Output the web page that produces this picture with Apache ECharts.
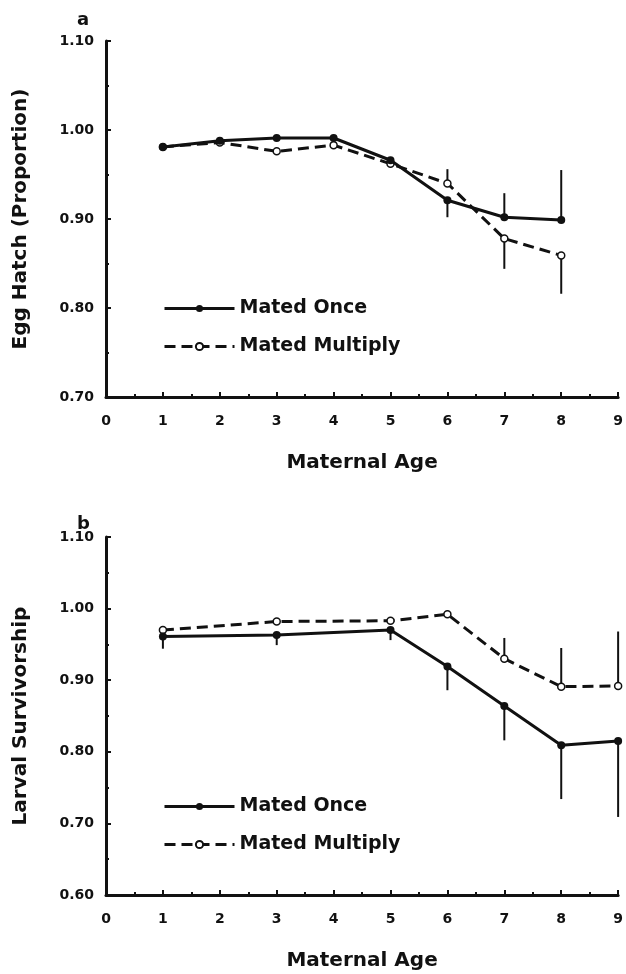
<!DOCTYPE html>
<html>
  <head>
    <meta charset="UTF-8" />
    <title>Egg hatch and larval survivorship</title>
    <script src="https://cdn.jsdelivr.net/npm/echarts@6/dist/echarts.min.js"></script>
    <style>
      html, body { margin: 0; background: #fff; }
      #chart { width: 626px; height: 974px; }
    </style>
  </head>
  <body>
    <div id="chart"></div>
    <script>
      // panel a: egg hatch
      const ageA = [1, 2, 3, 4, 5, 6, 7, 8];
      const onceA = [0.981, 0.988, 0.991, 0.991, 0.966, 0.921, 0.902, 0.899];
      const multA = [0.981, 0.986, 0.976, 0.983, 0.962, 0.940, 0.878, 0.859];
      // end of each error bar (null = none drawn)
      const onceErrA = [null, null, null, null, null, 0.902, 0.929, 0.955];
      const multErrA = [null, null, null, null, null, 0.956, 0.844, 0.816];

      // panel b: larval survivorship
      const ageB = [1, 3, 5, 6, 7, 8, 9];
      const onceB = [0.961, 0.963, 0.970, 0.919, 0.864, 0.809, 0.815];
      const multB = [0.970, 0.982, 0.983, 0.992, 0.930, 0.891, 0.892];
      const onceErrB = [0.944, 0.949, 0.956, 0.886, 0.816, 0.734, 0.709];
      const multErrB = [null, null, null, null, 0.959, 0.945, 0.968];

      const xTicks = [0, 1, 2, 3, 4, 5, 6, 7, 8, 9];

      const ink = "#111";
      const font = "DejaVu Sans";

      const pairs = (xs, ys) => xs.map((x, i) => [x, ys[i]]);
      const errPairs = (xs, ys, ends) =>
        xs.map((x, i) => [x, ys[i], ends[i]]).filter((d) => d[2] != null);

      const xAxis = (gi) => ({
        gridIndex: gi,
        type: "value",
        min: 0,
        max: 9,
        interval: 1,
        name: "Maternal Age",
        nameLocation: "middle",
        nameGap: 56,
        nameTextStyle: { fontFamily: font, fontWeight: "bold", fontSize: 20, color: ink },
        axisLine: { onZero: false, lineStyle: { color: ink, width: 3 } },
        axisTick: { inside: true, length: 5, lineStyle: { color: ink, width: 2 } },
        minorTick: { show: true, splitNumber: 2, length: 3, lineStyle: { color: ink, width: 2 } },
        splitLine: { show: false },
        axisLabel: {
          margin: 17,
          fontFamily: font,
          fontWeight: "bold",
          fontSize: 14,
          color: ink,
          showMaxLabel: true,
          formatter: (v) => (xTicks.includes(v) ? String(v) : ""),
        },
      });

      const yAxis = (gi, min, name) => ({
        gridIndex: gi,
        type: "value",
        min: min,
        max: 1.1,
        interval: 0.1,
        name: name,
        nameLocation: "middle",
        nameGap: 75,
        nameTextStyle: { fontFamily: font, fontWeight: "bold", fontSize: 20, color: ink },
        axisLine: { show: true, onZero: false, lineStyle: { color: ink, width: 3 } },
        axisTick: { show: true, inside: true, length: 5, lineStyle: { color: ink, width: 2 } },
        minorTick: { show: true, splitNumber: 2, length: 3, lineStyle: { color: ink, width: 2 } },
        splitLine: { show: false },
        axisLabel: {
          margin: 12,
          fontFamily: font,
          fontWeight: "bold",
          fontSize: 14,
          color: ink,
          formatter: (v) => v.toFixed(2),
        },
      });

      const onceSeries = (xi, data) => ({
        name: "Mated Once",
        type: "line",
        xAxisIndex: xi,
        yAxisIndex: xi,
        data: data,
        symbol: "circle",
        symbolSize: 8,
        lineStyle: { color: ink, width: 3 },
        itemStyle: { color: ink },
        z: 4,
        animation: false,
      });

      const multSeries = (xi, data) => ({
        name: "Mated Multiply",
        type: "line",
        xAxisIndex: xi,
        yAxisIndex: xi,
        data: data,
        symbol: "circle",
        symbolSize: 7,
        lineStyle: { color: ink, width: 3, type: [11, 6] },
        itemStyle: { color: "#fff", borderColor: ink, borderWidth: 1.5 },
        z: 3,
        animation: false,
      });

      const errSeries = (xi, data) => ({
        type: "custom",
        xAxisIndex: xi,
        yAxisIndex: xi,
        data: data,
        z: 2,
        silent: true,
        animation: false,
        renderItem: (params, api) => {
          const a = api.coord([api.value(0), api.value(1)]);
          const b = api.coord([api.value(0), api.value(2)]);
          return {
            type: "line",
            shape: { x1: a[0], y1: a[1], x2: b[0], y2: b[1] },
            style: { stroke: ink, lineWidth: 2 },
          };
        },
      });

      const legend = (top) => ({
        data: ["Mated Once", "Mated Multiply"],
        orient: "vertical",
        left: 158,
        top: top,
        itemWidth: 70,
        itemHeight: 9,
        itemGap: 19,
        selectedMode: false,
        lineStyle: { width: 3 },
        textStyle: { fontFamily: font, fontWeight: "bold", fontSize: 19, color: ink },
      });

      const chart = echarts.init(document.getElementById("chart"));
      chart.setOption({
        backgroundColor: "#fff",
        animation: false,
        title: [
          { text: "a", left: 72, top: 6, textStyle: { fontFamily: font, fontWeight: "bold", fontSize: 18, color: ink } },
          { text: "b", left: 72, top: 510, textStyle: { fontFamily: font, fontWeight: "bold", fontSize: 18, color: ink } },
        ],
        legend: [legend(294), legend(792)],
        grid: [
          { left: 106, top: 41, width: 517, height: 356 },
          { left: 106, top: 537, width: 517, height: 358 },
        ],
        xAxis: [xAxis(0), xAxis(1)],
        yAxis: [yAxis(0, 0.7, "Egg Hatch (Proportion)"), yAxis(1, 0.6, "Larval Survivorship")],
        series: [
          errSeries(0, errPairs(ageA, onceA, onceErrA)),
          errSeries(0, errPairs(ageA, multA, multErrA)),
          onceSeries(0, pairs(ageA, onceA)),
          multSeries(0, pairs(ageA, multA)),
          errSeries(1, errPairs(ageB, onceB, onceErrB)),
          errSeries(1, errPairs(ageB, multB, multErrB)),
          onceSeries(1, pairs(ageB, onceB)),
          multSeries(1, pairs(ageB, multB)),
        ],
      });
    </script>
  </body>
</html>
